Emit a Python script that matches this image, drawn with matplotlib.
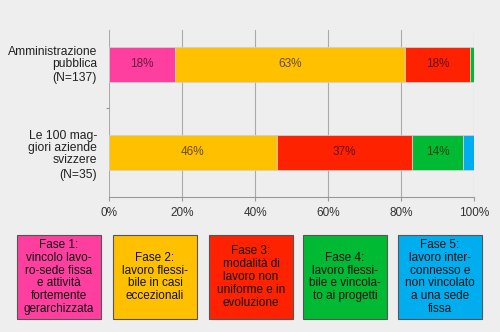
import numpy as np
import matplotlib.pyplot as plt
from matplotlib.patches import Rectangle

plt.rcParams['font.family'] = ['Liberation Sans', 'DejaVu Sans']

categories = ["Amministrazione\npubblica", "Le 100 mag-\ngiori aziende\nsvizzere"]
sizes = ["(N=137)", "(N=35)"]
phases = ["Fase 1:\nvincolo lavo-\nro-sede fissa\ne attività\nfortemente\ngerarchizzata",
          "Fase 2:\nlavoro flessi-\nbile in casi\neccezionali",
          "Fase 3:\nmodalità di\nlavoro non\nuniforme e in\nevoluzione",
          "Fase 4:\nlavoro flessi-\nbile e vincola-\nto ai progetti",
          "Fase 5:\nlavoro inter-\nconnesso e\nnon vincolato\na una sede\nfissa"]
colors = ["#FF3FA0", "#FFC000", "#FF2200", "#00BA33", "#00AEEF"]
# share per phase (percent), one list per category
pubblica = [18, 63, 18, 1, 0]
aziende = [0, 46, 37, 14, 3]
ticks = [0, 20, 40, 60, 80, 100]

bg = "#EEEEEE"
fig = plt.figure(figsize=(5, 3.32), dpi=100, facecolor=bg)
ax = fig.add_axes([0.218, 0.4066, 0.73, 0.503], facecolor=bg)

rows = [pubblica, aziende]
ypos = [1, 0]
for y, vals in zip(ypos, rows):
    left = 0
    for v, c in zip(vals, colors):
        if v > 0:
            ax.barh(y, v, left=left, height=0.4, color=c, edgecolor="#cfcfcf", linewidth=0.6, zorder=3)
            if v >= 10:
                ax.text(left + v / 2, y, f"{v}%", ha="center", va="center",
                        fontsize=8.5, color="black", alpha=0.6, zorder=4)
        left += v

ax.set_xlim(0, 100)
ax.set_ylim(-0.514, 1.394)
ax.set_xticks(ticks)
ax.set_xticklabels([f"{t}%" for t in ticks], fontsize=8.5, color="#333333")
ax.set_yticks([0.5])
ax.set_yticklabels([""])
ax.tick_params(axis="y", length=2, color="#999999")
ax.tick_params(axis="x", length=3, color="#999999", pad=4)
ax.grid(axis="x", color="#aaaaaa", linewidth=0.8, zorder=0)
for s in ["top", "right", "left"]:
    ax.spines[s].set_visible(False)
ax.spines["bottom"].set_color("#999999")

# category names and sample sizes (N line set a bit apart)
name_y = [1.074, 0.046]
n_y = [0.846, -0.263]
for lab, n, y1, y2 in zip(categories, sizes, name_y, n_y):
    ax.text(-3.3, y1, lab, ha="right", va="center", fontsize=8.7,
            color="#222222", linespacing=1.05)
    ax.text(-3.3, y2, n, ha="right", va="center", fontsize=8.7, color="#222222")

# legend boxes below the chart
box_x = [17, 113, 209, 303, 398]
box_w = 84
for x0, txt, c in zip(box_x, phases, colors):
    fig.patches.append(Rectangle((x0 / 500, 1 - 319 / 332), box_w / 500, 84 / 332,
                                 transform=fig.transFigure, facecolor=c,
                                 edgecolor="#555555", linewidth=0.8))
    fig.text((x0 + box_w / 2) / 500, 1 - 277 / 332, txt, ha="center", va="center",
             fontsize=8.5, color="#111111", linespacing=1.1)

fig.savefig("out.png", dpi=100, facecolor=bg)
